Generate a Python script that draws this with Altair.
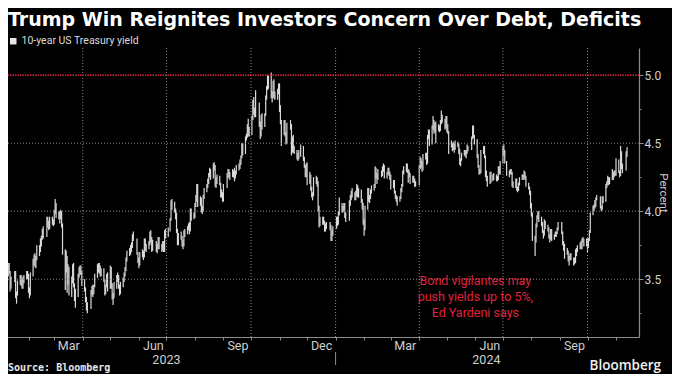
import altair as alt
import pandas as pd

TITLE = "Trump Win Reignites Investors Concern Over Debt, Deficits"
SERIES = "10-year US Treasury yield"
SOURCE = "Source: Bloomberg"
BRAND = "Bloomberg"

# trading-day calendar of the US Treasury market (holidays removed)
first_day = "2023-01-03"
last_day = "2024-11-13"
holidays = ["2023-01-16", "2023-02-20", "2023-04-07", "2023-05-29", "2023-06-19",
            "2023-07-04", "2023-09-04", "2023-10-09", "2023-11-10", "2023-11-23",
            "2023-12-25", "2024-01-01", "2024-01-15", "2024-02-19", "2024-03-29",
            "2024-05-27", "2024-06-19", "2024-07-04", "2024-09-02", "2024-10-14",
            "2024-11-11"]

# daily low / high of the 10-year yield (percent)
lo_2023 = [
    3.72, 3.67, 3.66, 3.55, 3.51, 3.52, 3.54, 3.41, 3.43, 3.48, 3.36, 3.32, 3.38, 3.46, 3.45, 3.43, 3.43, 3.47, 3.50, 3.50,
    3.40, 3.36, 3.38, 3.52, 3.60, 3.59, 3.58, 3.64, 3.67, 3.70, 3.74, 3.79, 3.80, 3.81, 3.88, 3.86, 3.87, 3.90, 3.89,
    3.90, 3.98, 3.95, 3.94, 3.91, 3.94, 3.88, 3.68, 3.42, 3.55, 3.40, 3.46, 3.38, 3.37, 3.47, 3.44, 3.34, 3.29, 3.37, 3.51, 3.53, 3.53, 3.45,
    3.41, 3.33, 3.27, 3.25, 3.28, 3.38, 3.37, 3.39, 3.44, 3.51, 3.55, 3.54, 3.52, 3.52, 3.48, 3.38, 3.39, 3.44, 3.41,
    3.43, 3.43, 3.35, 3.31, 3.36, 3.43, 3.48, 3.43, 3.38, 3.39, 3.44, 3.48, 3.52, 3.56, 3.63, 3.67, 3.68, 3.70, 3.73, 3.78, 3.68, 3.62,
    3.58, 3.60, 3.66, 3.64, 3.66, 3.71, 3.70, 3.72, 3.75, 3.77, 3.70, 3.71, 3.70, 3.69, 3.72, 3.72, 3.70, 3.71, 3.70, 3.70, 3.80,
    3.81, 3.85, 3.93, 4.01, 3.99, 3.94, 3.84, 3.75, 3.75, 3.79, 3.74, 3.72, 3.74, 3.81, 3.83, 3.86, 3.83, 3.85, 3.93, 3.94,
    3.95, 4.03, 4.07, 4.03, 4.04, 3.99, 3.98, 4.00, 4.09, 4.14, 4.17, 4.20, 4.25, 4.23, 4.24, 4.30, 4.18, 4.17, 4.20, 4.19, 4.10, 4.10, 4.07,
    4.07, 4.17, 4.24, 4.25, 4.23, 4.25, 4.25, 4.22, 4.24, 4.27, 4.30, 4.31, 4.34, 4.39, 4.41, 4.42, 4.52, 4.54, 4.55, 4.55,
    4.56, 4.67, 4.71, 4.69, 4.69, 4.62, 4.53, 4.55, 4.60, 4.62, 4.70, 4.82, 4.89, 4.90, 4.83, 4.80, 4.83, 4.83, 4.82, 4.82, 4.86,
    4.73, 4.64, 4.48, 4.56, 4.55, 4.49, 4.50, 4.60, 4.41, 4.43, 4.43, 4.42, 4.38, 4.37, 4.38, 4.40, 4.37, 4.32, 4.25, 4.25,
    4.19, 4.20, 4.15, 4.10, 4.08, 4.11, 4.20, 4.18, 4.00, 3.88, 3.89, 3.90, 3.90, 3.85, 3.85, 3.87, 3.86, 3.78, 3.78, 3.82,
]
hi_2023 = [
    3.84, 3.80, 3.76, 3.75, 3.63, 3.62, 3.62, 3.56, 3.52, 3.56, 3.56, 3.41, 3.49, 3.53, 3.53, 3.50, 3.52, 3.53, 3.56, 3.56,
    3.54, 3.44, 3.55, 3.65, 3.68, 3.69, 3.67, 3.75, 3.75, 3.80, 3.82, 3.87, 3.89, 3.96, 3.96, 3.93, 3.96, 3.96, 3.94,
    4.01, 4.09, 4.06, 4.00, 4.00, 4.01, 4.00, 3.91, 3.72, 3.71, 3.67, 3.61, 3.59, 3.52, 3.61, 3.62, 3.47, 3.43, 3.54, 3.59, 3.60, 3.60, 3.56,
    3.50, 3.44, 3.37, 3.33, 3.42, 3.45, 3.46, 3.46, 3.54, 3.61, 3.62, 3.62, 3.60, 3.58, 3.58, 3.50, 3.46, 3.54, 3.55,
    3.60, 3.59, 3.47, 3.40, 3.48, 3.53, 3.55, 3.53, 3.46, 3.48, 3.51, 3.55, 3.59, 3.66, 3.71, 3.73, 3.75, 3.77, 3.83, 3.85, 3.80, 3.70,
    3.66, 3.70, 3.72, 3.71, 3.80, 3.80, 3.76, 3.78, 3.85, 3.86, 3.81, 3.79, 3.78, 3.76, 3.81, 3.81, 3.76, 3.78, 3.78, 3.86, 3.87,
    3.88, 3.95, 4.08, 4.09, 4.07, 4.02, 3.99, 3.87, 3.84, 3.85, 3.82, 3.79, 3.86, 3.87, 3.89, 3.91, 3.92, 4.02, 4.02, 3.99,
    4.06, 4.12, 4.20, 4.20, 4.11, 4.10, 4.04, 4.12, 4.17, 4.20, 4.24, 4.28, 4.32, 4.31, 4.35, 4.36, 4.34, 4.25, 4.27, 4.26, 4.21, 4.16, 4.14,
    4.20, 4.28, 4.31, 4.31, 4.29, 4.31, 4.30, 4.32, 4.30, 4.34, 4.35, 4.38, 4.41, 4.50, 4.50, 4.55, 4.57, 4.64, 4.68, 4.62,
    4.70, 4.82, 4.84, 4.76, 4.89, 4.80, 4.66, 4.71, 4.72, 4.72, 4.85, 4.92, 5.00, 5.00, 5.02, 4.88, 4.96, 4.97, 4.88, 4.90, 4.94,
    4.94, 4.78, 4.67, 4.67, 4.67, 4.58, 4.65, 4.67, 4.64, 4.55, 4.56, 4.48, 4.45, 4.43, 4.45, 4.49, 4.48, 4.40, 4.34, 4.35,
    4.36, 4.29, 4.27, 4.18, 4.14, 4.25, 4.26, 4.25, 4.22, 4.04, 3.96, 3.96, 3.96, 3.93, 3.91, 3.92, 3.92, 3.90, 3.86, 3.89,
]
lo_2024 = [
    3.87, 3.89, 3.90, 3.97, 3.99, 3.99, 4.00, 3.95, 3.92, 3.93, 4.04, 4.08, 4.10, 4.08, 4.08, 4.11, 4.10, 4.10, 4.06, 4.01, 3.90,
    3.82, 3.86, 4.01, 4.07, 4.06, 4.09, 4.13, 4.15, 4.17, 4.24, 4.20, 4.23, 4.25, 4.26, 4.29, 4.24, 4.24, 4.27, 4.26, 4.23,
    4.16, 4.17, 4.13, 4.09, 4.07, 4.04, 4.07, 4.09, 4.14, 4.18, 4.27, 4.29, 4.28, 4.21, 4.25, 4.20, 4.21, 4.21, 4.18, 4.18,
    4.19, 4.31, 4.32, 4.29, 4.30, 4.38, 4.34, 4.35, 4.53, 4.48, 4.49, 4.60, 4.57, 4.58, 4.50, 4.59, 4.58, 4.59, 4.64, 4.65, 4.60, 4.61,
    4.58, 4.57, 4.42, 4.47, 4.44, 4.45, 4.43, 4.45, 4.47, 4.42, 4.34, 4.33, 4.37, 4.41, 4.40, 4.39, 4.42, 4.44, 4.45, 4.53, 4.54, 4.49,
    4.39, 4.32, 4.27, 4.27, 4.28, 4.42, 4.39, 4.25, 4.22, 4.18, 4.20, 4.21, 4.22, 4.23, 4.22, 4.22, 4.23, 4.27, 4.27,
    4.35, 4.41, 4.35, 4.26, 4.25, 4.27, 4.27, 4.18, 4.17, 4.17, 4.15, 4.14, 4.15, 4.19, 4.23, 4.23, 4.24, 4.23, 4.18, 4.16, 4.12, 4.02,
    3.96, 3.78, 3.67, 3.77, 3.88, 3.94, 3.92, 3.89, 3.84, 3.80, 3.82, 3.87, 3.85, 3.80, 3.77, 3.79, 3.78, 3.79, 3.81, 3.81, 3.83, 3.86,
    3.83, 3.75, 3.71, 3.65, 3.68, 3.63, 3.60, 3.64, 3.64, 3.60, 3.61, 3.62, 3.67, 3.70, 3.72, 3.72, 3.72, 3.77, 3.74, 3.74,
    3.70, 3.73, 3.78, 3.84, 3.97, 4.00, 4.02, 4.03, 4.08, 4.02, 4.00, 4.01, 4.06, 4.07, 4.17, 4.19, 4.19, 4.20, 4.23, 4.23, 4.25, 4.26,
    4.26, 4.28, 4.25, 4.26, 4.31, 4.28, 4.30, 4.40,
]
hi_2024 = [
    3.96, 3.96, 4.00, 4.10, 4.06, 4.04, 4.06, 4.06, 3.99, 4.08, 4.12, 4.15, 4.17, 4.14, 4.15, 4.20, 4.19, 4.17, 4.16, 4.09, 4.06,
    3.94, 4.04, 4.17, 4.17, 4.12, 4.16, 4.19, 4.20, 4.33, 4.32, 4.28, 4.31, 4.30, 4.33, 4.35, 4.34, 4.29, 4.32, 4.32, 4.29,
    4.27, 4.23, 4.23, 4.15, 4.12, 4.11, 4.11, 4.17, 4.20, 4.30, 4.33, 4.35, 4.35, 4.31, 4.30, 4.28, 4.26, 4.26, 4.24, 4.22,
    4.34, 4.40, 4.39, 4.37, 4.42, 4.43, 4.43, 4.56, 4.60, 4.60, 4.63, 4.70, 4.67, 4.65, 4.66, 4.64, 4.63, 4.67, 4.74, 4.71, 4.68, 4.70,
    4.70, 4.64, 4.59, 4.52, 4.50, 4.51, 4.50, 4.52, 4.51, 4.50, 4.46, 4.39, 4.43, 4.45, 4.45, 4.45, 4.49, 4.48, 4.55, 4.63, 4.63, 4.56,
    4.53, 4.42, 4.34, 4.31, 4.45, 4.48, 4.48, 4.41, 4.30, 4.26, 4.29, 4.29, 4.27, 4.28, 4.27, 4.26, 4.33, 4.33, 4.37,
    4.48, 4.49, 4.45, 4.37, 4.30, 4.31, 4.31, 4.29, 4.22, 4.24, 4.24, 4.18, 4.21, 4.25, 4.27, 4.27, 4.30, 4.29, 4.26, 4.21, 4.18, 4.15,
    4.06, 3.99, 3.82, 3.91, 3.97, 4.00, 4.00, 3.96, 3.92, 3.86, 3.94, 3.93, 3.90, 3.88, 3.83, 3.87, 3.87, 3.83, 3.85, 3.85, 3.88, 3.92,
    3.92, 3.85, 3.78, 3.76, 3.73, 3.71, 3.67, 3.69, 3.69, 3.66, 3.66, 3.72, 3.73, 3.75, 3.77, 3.78, 3.80, 3.81, 3.80, 3.80,
    3.80, 3.80, 3.86, 3.99, 4.04, 4.05, 4.08, 4.10, 4.12, 4.11, 4.04, 4.11, 4.11, 4.20, 4.22, 4.26, 4.25, 4.25, 4.31, 4.29, 4.30, 4.30,
    4.39, 4.38, 4.30, 4.48, 4.44, 4.35, 4.44, 4.47,
]

threshold = [5.0]
y_ticks = [3.25, 3.5, 3.75, 4.0, 4.25, 4.5, 4.75, 5.0]
grid_levels = [3.5, 4.0, 4.5]
grid_dates = ["2023-04-01", "2023-07-01", "2023-10-01", "2024-01-01",
              "2024-04-01", "2024-07-01", "2024-10-01"]
note_lines = ["Bond vigilantes may", "push yields up to 5%,", "Ed Yardeni says"]
note_date = "2024-06-01"
note_value = 3.485
year_labels = ["2023", "2024"]
year_label_dates = ["2023-07-01", "2024-06-13"]
year_break = ["2024-01-01"]

# ---------------------------------------------------------------- tables
days = pd.bdate_range(first_day, last_day, freq="C", holidays=holidays)
lows = lo_2023 + lo_2024
highs = hi_2023 + hi_2024
n = min(len(days), len(lows), len(highs))
bars = pd.DataFrame({"date": days[:n], "low": lows[:n], "high": highs[:n], "series": SERIES})
limit_df = pd.DataFrame({"level": threshold})
hgrid_df = pd.DataFrame({"level": grid_levels})
vgrid_df = pd.DataFrame({"date": pd.to_datetime(grid_dates)})
note_df = pd.DataFrame({"date": [pd.Timestamp(note_date)], "value": [note_value],
                        "text": ["\n".join(note_lines)]})
years_df = pd.DataFrame({"date": pd.to_datetime(year_label_dates), "label": year_labels})
break_df = pd.DataFrame({"date": pd.to_datetime(year_break)})
source_df = pd.DataFrame({"t": [SOURCE]})
brand_df = pd.DataFrame({"t": [BRAND]})

# ---------------------------------------------------------------- styling
W, H = 631, 289
AXIS_GREY = "#8c8c8c"
LABEL = "#cfcfcf"
GRID = "#8a8a8a"
FONT = "Roboto"

month_ticks = [alt.DateTime(year=y, month=m, date=1)
               for y in (2023, 2024) for m in range(1, 13)
               if not (y == 2024 and m > 11)]

xscale = alt.Scale(domain=[alt.DateTime(year=2023, month=1, date=1),
                           alt.DateTime(year=2024, month=11, date=26)],
                   range=[-8, W])
yscale = alt.Scale(domain=[3.075, 5.2], nice=False, zero=False)

major = "abs(datum.value * 2 - round(datum.value * 2)) < 0.01"

x_axis = alt.Axis(
    values=month_ticks, title=None, grid=False,
    tickSize=3, tickColor=AXIS_GREY, domainColor=AXIS_GREY, domainWidth=1.2,
    labelExpr="month(datum.value) % 3 == 2 ? timeFormat(datum.value, '%b') : ''",
    labelOffset=14, labelPadding=-1, labelFontSize=12.5, labelColor=LABEL, labelFont=FONT,
    labelFlush=False, labelOverlap=False, labelBound=False,
)
y_axis = alt.Axis(
    orient="right", values=y_ticks, title="Percent", grid=False,
    labelExpr=f"{major} ? format(datum.value, '.1f') : ''",
    tickSize={"condition": {"test": major, "value": 4}, "value": 2},
    domainColor=AXIS_GREY, domainWidth=1.2, tickColor=AXIS_GREY,
    labelColor=LABEL, labelFontSize=12, labelFont=FONT, labelPadding=1,
    titleFontSize=11.5, titleFontWeight="normal", titleColor=LABEL, titleFont=FONT,
    titlePadding=-3, titleAngle=90,
)


def xenc(field):
    return alt.X(field, scale=xscale, axis=x_axis)


def yenc(field):
    return alt.Y(field, scale=yscale, axis=y_axis)


vgrid_layer = alt.Chart(vgrid_df).mark_rule(
    color=GRID, strokeWidth=1, strokeDash=[1, 2]
).encode(x=xenc("date:T"))

hgrid_layer = alt.Chart(hgrid_df).mark_rule(
    color=GRID, strokeWidth=1, strokeDash=[1, 2]
).encode(y=yenc("level:Q"))

bar_layer = alt.Chart(bars).mark_rule(strokeWidth=1.2, clip=True).encode(
    x=xenc("date:T"),
    y=yenc("low:Q"),
    y2="high:Q",
    color=alt.Color("series:N", scale=alt.Scale(range=["#dadada"]),
                    legend=alt.Legend(title=None, orient="none", legendX=0, legendY=-12,
                                      symbolType="square", symbolSize=42,
                                      symbolFillColor="#e6e6e6", symbolStrokeColor="#e6e6e6",
                                      symbolStrokeWidth=0, labelColor="#dcdcdc",
                                      labelFontSize=10.5, labelFont=FONT, labelOffset=3,
                                      padding=0)),
)

limit_layer = alt.Chart(limit_df).mark_rule(
    color="#c0213a", strokeWidth=1.8, strokeDash=[1.5, 1]
).encode(y=yenc("level:Q"))

note_layer = alt.Chart(note_df).mark_text(
    color="#e0213d", fontSize=12.5, font=FONT, lineBreak="\n", lineHeight=16,
    align="center", baseline="middle"
).encode(
    x=xenc("date:T"),
    y=yenc("value:Q"),
    text="text:N",
)

years_layer = alt.Chart(years_df).mark_text(
    color=LABEL, fontSize=12.5, font=FONT, align="center", baseline="alphabetic"
).encode(
    x=xenc("date:T"),
    y=alt.value(H + 27),
    text="label:N",
)

break_layer = alt.Chart(break_df).mark_rule(color=AXIS_GREY, strokeWidth=1).encode(
    x=xenc("date:T"),
    y=alt.value(H + 15),
    y2=alt.value(H + 28),
)

source_layer = alt.Chart(source_df).mark_text(
    align="left", baseline="alphabetic", font="DejaVu Sans Mono", fontWeight="bold",
    fontSize=10, color="#e6e6e6"
).encode(x=alt.value(0), y=alt.value(H + 34), text="t:N")

brand_layer = alt.Chart(brand_df).mark_text(
    align="right", baseline="alphabetic", font="Open Sans", fontWeight=600,
    fontSize=13.5, color="#f2f2f2"
).encode(x=alt.value(653), y=alt.value(H + 33), text="t:N")

chart = alt.layer(
    bar_layer, vgrid_layer, hgrid_layer, limit_layer, note_layer, years_layer,
    break_layer, source_layer, brand_layer
).properties(
    width=W, height=H,
    title=alt.TitleParams(TITLE, anchor="start", frame="group", fontSize=19,
                          fontWeight="bold", font="DejaVu Sans", color="white", offset=6),
    padding={"left": 0, "top": 40, "right": 33, "bottom": 37},
    autosize=alt.AutoSizeParams(type="none"),
    background="black",
).configure_view(stroke=None)

chart.save("out.html", embed_options={"renderer": "svg", "actions": False})
